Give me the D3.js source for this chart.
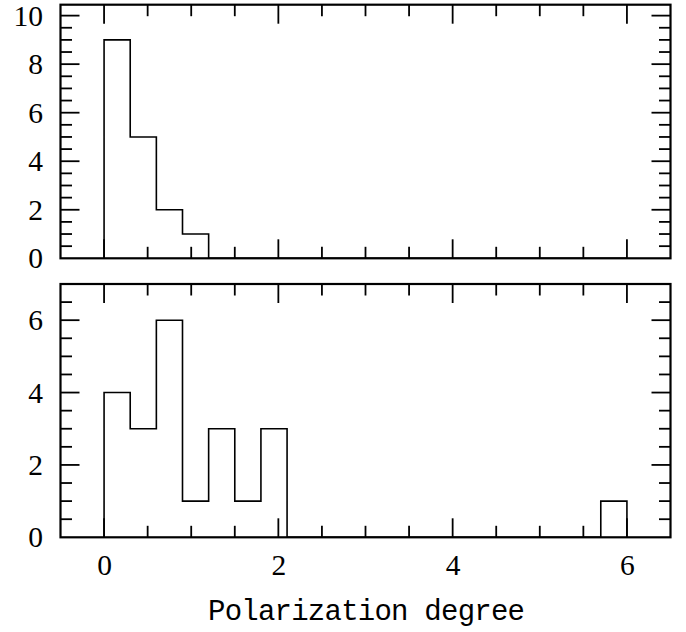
<!DOCTYPE html>
<html><head><meta charset="utf-8">
<script src="https://cdn.jsdelivr.net/npm/d3@7"></script>
<style>
html,body{margin:0;padding:0;background:#fff;}
svg text{font-family:"Liberation Serif","DejaVu Serif",serif;fill:#000;}
svg text.title{font-family:"Liberation Mono","DejaVu Sans Mono",monospace;}
</style></head>
<body>
<svg id="chart" width="686" height="632"></svg>
<script>
// Bin edges (polarization degree)
const binEdges = [0,0.3,0.6,0.9,1.2,1.5,1.8,2.1,2.4,2.7,3.0,3.3,3.6,3.9,4.2,4.5,4.8,5.1,5.4,5.7,6.0];
// Counts per bin
const topCounts    = [9,5,2,1,0,0,0,0,0,0,0,0,0,0,0,0,0,0,0,0];
const bottomCounts = [4,3,6,1,3,1,3,0,0,0,0,0,0,0,0,0,0,0,0,1];
// Tick labels
const xTickLabels = [0,2,4,6];
const topYTicks = [0,2,4,6,8,10];
const bottomYTicks = [0,2,4,6];
const xLabel = "Polarization degree";

const svg = d3.select("#chart");
const L = 60.5, R = 670.5;
const x = d3.scaleLinear().domain([-0.5, 6.5]).range([L, R]);

const panels = [
  {counts: topCounts, yDomain:[0,10.45], top:4.7, bottom:258.3, yTicks: topYTicks, showX:false},
  {counts: bottomCounts, yDomain:[0,7], top:284, bottom:537.3, yTicks: bottomYTicks, showX:true}
];

const majorLen = 19, minorLen = 11.5;

panels.forEach(p => {
  const y = d3.scaleLinear().domain(p.yDomain).range([p.bottom, p.top]);
  const g = svg.append("g");

  // histogram step outline
  const pts = [[binEdges[0], 0]];
  p.counts.forEach((c, i) => {
    pts.push([binEdges[i], c]);
    pts.push([binEdges[i+1], c]);
  });
  pts.push([binEdges[binEdges.length-1], 0]);
  const line = d3.line().x(d => x(d[0])).y(d => y(d[1]));
  g.append("path").attr("d", line(pts)).attr("fill","none")
    .attr("stroke","#000").attr("stroke-width",1.6);

  // x ticks (minor every 0.5, major every 2)
  const xMinor = d3.range(-0.5, 6.51, 0.5).filter(v => v > -0.5 && v < 6.5);
  xMinor.forEach(v => {
    const len = (Math.abs(v % 2) < 1e-9) ? majorLen : minorLen;
    g.append("line").attr("x1", x(v)).attr("x2", x(v)).attr("y1", p.bottom).attr("y2", p.bottom - len)
      .attr("stroke","#000").attr("stroke-width",1.8);
    g.append("line").attr("x1", x(v)).attr("x2", x(v)).attr("y1", p.top).attr("y2", p.top + len)
      .attr("stroke","#000").attr("stroke-width",1.8);
  });
  // y ticks (minor every 0.5, major every 2)
  const yMinor = d3.range(0, p.yDomain[1], 0.5).filter(v => v > 0);
  yMinor.forEach(v => {
    const len = (Math.abs(v % 2) < 1e-9) ? majorLen : minorLen;
    g.append("line").attr("x1", L).attr("x2", L + len).attr("y1", y(v)).attr("y2", y(v))
      .attr("stroke","#000").attr("stroke-width",1.8);
    g.append("line").attr("x1", R).attr("x2", R - len).attr("y1", y(v)).attr("y2", y(v))
      .attr("stroke","#000").attr("stroke-width",1.8);
  });

  // frame
  g.append("rect").attr("x", L).attr("y", p.top).attr("width", R - L).attr("height", p.bottom - p.top)
    .attr("fill","none").attr("stroke","#000").attr("stroke-width",2.2);

  // y tick labels
  g.selectAll("text.yl").data(p.yTicks).enter().append("text")
    .attr("x", 43).attr("y", d => y(d)).attr("dy","0.34em")
    .attr("text-anchor","end").attr("font-size", 29.5).text(d => d);

  if (p.showX) {
    g.selectAll("text.xl").data(xTickLabels).enter().append("text")
      .attr("x", d => x(d) + 0.5).attr("y", p.bottom + 37.5)
      .attr("text-anchor","middle").attr("font-size", 29.5).text(d => d);
  }
});

svg.append("text").attr("class","title").attr("x", 208).attr("y", 620)
  .attr("font-size", 29).attr("textLength", 317).attr("lengthAdjust", "spacing")
  .text(xLabel);
</script>
</body></html>
